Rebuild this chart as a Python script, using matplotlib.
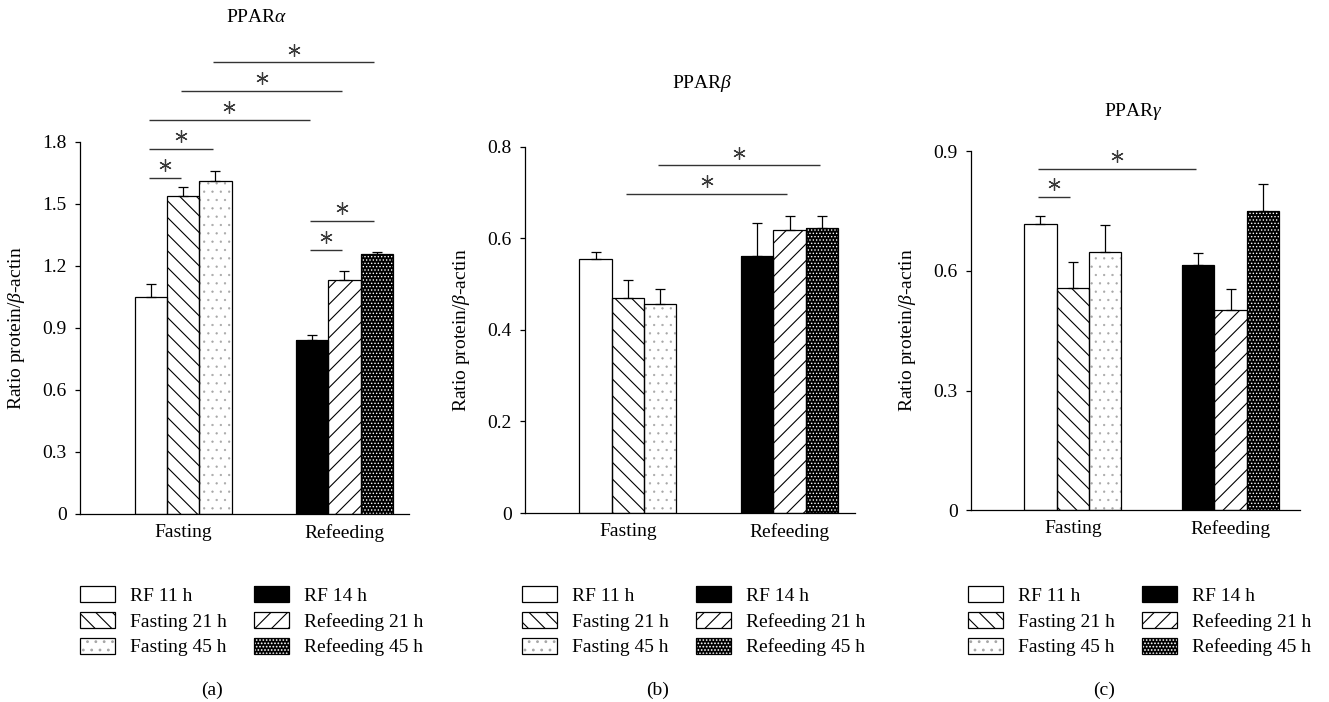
import matplotlib
matplotlib.use("Agg")
import matplotlib.pyplot as plt
import matplotlib.transforms as mtransforms
import numpy as np
from matplotlib.legend_handler import HandlerTuple
from matplotlib.ticker import FuncFormatter

plt.rcParams['font.family'] = ['Liberation Serif', 'DejaVu Serif']
plt.rcParams['mathtext.fontset'] = 'custom'
plt.rcParams['mathtext.rm'] = 'Liberation Serif'
plt.rcParams['mathtext.it'] = 'Liberation Serif:italic'
plt.rcParams['hatch.linewidth'] = 0.8

# ---------------- data ----------------
categories = ["Fasting", "Refeeding"]
series_labels = ["RF 11 h", "Fasting 21 h", "Fasting 45 h",
                 "RF 14 h", "Refeeding 21 h", "Refeeding 45 h"]

alpha_means = [1.05, 1.54, 1.61, 0.84, 1.13, 1.26]
alpha_err = [0.065, 0.04, 0.05, 0.027, 0.045, 0.01]
beta_means = [0.555, 0.470, 0.456, 0.562, 0.618, 0.623]
beta_err = [0.014, 0.039, 0.034, 0.072, 0.031, 0.025]
gamma_means = [0.718, 0.558, 0.646, 0.614, 0.502, 0.749]
gamma_err = [0.018, 0.065, 0.069, 0.031, 0.053, 0.068]

alpha_ticks = [0, 0.3, 0.6, 0.9, 1.2, 1.5, 1.8]
beta_ticks = [0, 0.2, 0.4, 0.6, 0.8]
gamma_ticks = [0, 0.3, 0.6, 0.9]

# significance comparisons: (bar i, bar j, line height)
alpha_sig = [(0, 1, 1.627), (0, 2, 1.768), (0, 3, 1.907), (1, 4, 2.047),
             (2, 5, 2.186), (3, 5, 1.418), (3, 4, 1.278)]
beta_sig = [(2, 5, 0.760), (1, 4, 0.697)]
gamma_sig = [(0, 3, 0.856), (0, 1, 0.786)]

# ---------------- layout ----------------
W, H = 1329, 702
fig = plt.figure(figsize=(W / 100, H / 100), dpi=100)
FS = 14


def fx(px):
    return px / W


def fy(py):
    return 1 - py / H


styles = [
    dict(face='white', hatch=None, hcolor='black', hlw=0.8),
    dict(face='white', hatch='\\\\', hcolor='black', hlw=0.8),
    dict(face='white', hatch='..', hcolor='#a6a6a6', hlw=0.4),
    dict(face='black', hatch=None, hcolor='black', hlw=0.8),
    dict(face='white', hatch='//', hcolor='black', hlw=0.8),
    dict(face='black', hatch='.....', hcolor='white', hlw=0.6),
]

panels = [
    dict(means=alpha_means, err=alpha_err, ticks=alpha_ticks, sig=alpha_sig,
         rect=(80, 142, 409, 514), title="PPAR$\\alpha$", title_xy=(257, 18),
         cap="(a)", cap_xy=(212, 690), leg_xy=(80, 586), group_lefts=(1.7, 6.7)),
    dict(means=beta_means, err=beta_err, ticks=beta_ticks, sig=beta_sig,
         rect=(525, 146.7, 855, 513), title="PPAR$\\beta$", title_xy=(702, 84),
         cap="(b)", cap_xy=(658, 690), leg_xy=(522, 586), group_lefts=(1.68, 6.68)),
    dict(means=gamma_means, err=gamma_err, ticks=gamma_ticks, sig=gamma_sig,
         rect=(970.7, 151, 1300, 510.3), title="PPAR$\\gamma$", title_xy=(1133, 112),
         cap="(c)", cap_xy=(1104, 690), leg_xy=(968, 586), group_lefts=(1.66, 6.55)),
]

fmt = FuncFormatter(lambda v, p: '0' if abs(v) < 1e-9 else f'{v:.1f}')

for P in panels:
    l, t, r, b = P['rect']
    ax = fig.add_axes([fx(l), fy(b), (r - l) / W, (b - t) / H])
    ymax = P['ticks'][-1]
    ax.set_ylim(0, ymax)
    ax.set_xlim(0, 10.2)
    xs = []
    for g in range(2):
        for k in range(3):
            xs.append(P['group_lefts'][g] + 0.5 + k)
    xs = np.array(xs)
    handles = []
    for i, (x, m) in enumerate(zip(xs, P['means'])):
        st = styles[i]
        with plt.rc_context({'hatch.linewidth': st['hlw']}):
            f = ax.bar(x, m, width=1.0, color=st['face'], hatch=st['hatch'],
                       edgecolor=st['hcolor'], linewidth=0, zorder=2)
        o = ax.bar(x, m, width=1.0, fill=False, edgecolor='black',
                   linewidth=0.9, zorder=3)
        handles.append((f[0], o[0]))
    ax.errorbar(xs, P['means'], yerr=[np.zeros(len(xs)), P['err']], fmt='none',
                ecolor='black', elinewidth=0.9, capsize=3.6, capthick=0.9, zorder=4)

    for sp in ['top', 'right']:
        ax.spines[sp].set_visible(False)
    for sp in ['left', 'bottom']:
        ax.spines[sp].set_linewidth(0.9)
    ax.set_yticks(P['ticks'])
    ax.yaxis.set_major_formatter(fmt)
    ax.tick_params(axis='y', direction='out', length=3.5, width=0.9,
                   labelsize=FS, pad=6)
    ax.set_xticks([xs[1], xs[4]])
    ax.set_xticklabels(categories)
    ax.tick_params(axis='x', length=0, labelsize=FS, pad=7)
    ax.set_ylabel("Ratio protein/$\\beta$-actin", fontsize=FS)
    ax.yaxis.set_label_coords(-0.16, 0.5)

    star_tr = mtransforms.offset_copy(ax.transData, fig=fig, x=0, y=9,
                                      units='points')
    for (i, j, h) in P['sig']:
        x1, x2 = xs[i] - 0.07, xs[j] - 0.07
        ax.plot([x1, x2], [h, h], color='#333333', lw=1.0, clip_on=False,
                solid_capstyle='butt')
        ax.plot([(x1 + x2) / 2], [h], marker=(6, 2, 0), ms=9, mew=0.9,
                color='#3a3a3a', transform=star_tr, clip_on=False)

    fig.text(fx(P['title_xy'][0]), fy(P['title_xy'][1]), P['title'],
             ha='center', va='center', fontsize=FS)
    fig.text(fx(P['cap_xy'][0]), fy(P['cap_xy'][1]), P['cap'],
             ha='center', va='center', fontsize=FS)

    fig.legend(handles, series_labels, ncols=2, loc='upper left',
               bbox_to_anchor=(fx(P['leg_xy'][0]), fy(P['leg_xy'][1])),
               frameon=False, fontsize=FS, handlelength=1.8, handleheight=0.88,
               handletextpad=0.77, columnspacing=1.4, labelspacing=0.37,
               borderpad=0, borderaxespad=0,
               handler_map={tuple: HandlerTuple(ndivide=1)})

fig.savefig("out.png", dpi=100)
